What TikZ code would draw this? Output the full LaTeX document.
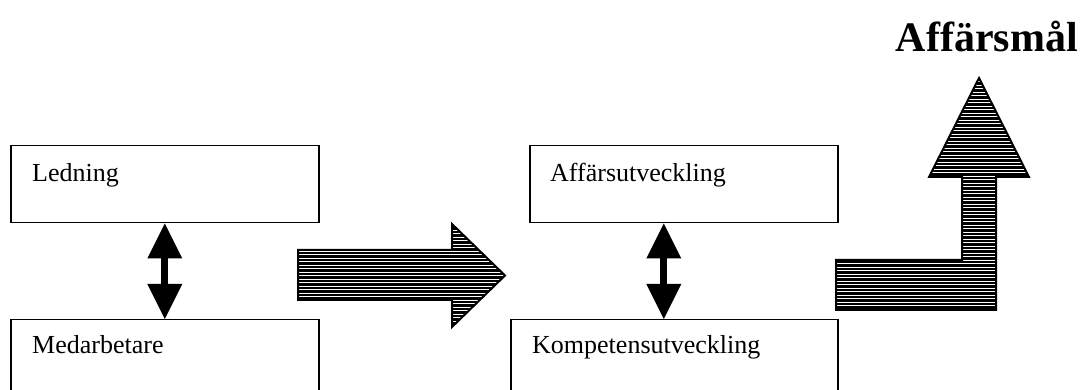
\documentclass[tikz,border=0pt]{standalone}
\usepackage{fontspec}
\setmainfont{Liberation Serif}
\usetikzlibrary{arrows.meta,calc}
\tikzset{
  box/.style={draw, line width=1.5pt, rectangle, inner sep=0pt, anchor=north west, minimum width=308pt},
  boxtext/.style={anchor=base west, inner sep=0pt, font=\fontsize{26}{30}\selectfont},
  dblarrow/.style={line width=7pt,
    {Triangle[length=35pt,width=35pt,line width=0pt]}-{Triangle[length=35pt,width=35pt,line width=0pt]}},
  outline/.style={draw, line width=2pt, line join=miter},
  hatchline/.style={white, line width=0.9pt},
}
\begin{document}
\begin{tikzpicture}[x=1pt,y=-1pt]
\useasboundingbox (0,0) rectangle (1080,390);

% boxes
\node[box, minimum height=77pt] (led) at (10,145) {};
\node[box, minimum height=90pt] (med) at (10,319) {};
\node[box, minimum height=77pt] (aff) at (529,145) {};
\node[box, minimum height=90pt, minimum width=327pt] (komp) at (510,319) {};

\node[boxtext] (ledt) at ($(led.north west)+(22,37)$) {Ledning};
\node[boxtext] (medt) at ($(med.north west)+(22,34)$) {Medarbetare};
\node[boxtext] (afft) at ($(aff.north west)+(21,37)$) {Affärsutveckling};
\node[boxtext] (kompt) at ($(komp.north west)+(22,34)$) {Kompetensutveckling};

% double arrows
\draw[dblarrow] (led.south) -- (med.north);
\coordinate (d2a) at ($(aff.south)+(-20,0)$);
\draw[dblarrow] (d2a) -- (d2a |- komp.north);

% big right arrow (hatched)
\begin{scope}
  \clip (298,250) -- (452,250) -- (452,224) -- (505,275.5) -- (452,327) -- (452,300) -- (298,300) -- cycle;
  \fill[black] (290,215) rectangle (515,335);
  \foreach \yy in {216,219.5,...,335} \draw[hatchline] (290,\yy) -- (515,\yy);
\end{scope}
\draw[outline] (298,250) -- (452,250) -- (452,224) -- (505,275.5) -- (452,327) -- (452,300) -- (298,300) -- cycle;

% L-shaped up arrow (hatched)
\begin{scope}
  \clip (836,260) -- (962,260) -- (962,177) -- (929,177) -- (979,78) -- (1029,177) -- (996,177) -- (996,310) -- (836,310) -- cycle;
  \fill[black] (830,70) rectangle (1035,315);
  \foreach \yy in {71,74.5,...,315} \draw[hatchline] (830,\yy) -- (1035,\yy);
\end{scope}
\draw[outline] (836,260) -- (962,260) -- (962,177) -- (929,177) -- (979,78) -- (1029,177) -- (996,177) -- (996,310) -- (836,310) -- cycle;

% title
\node[anchor=base east, inner sep=0pt, font=\fontsize{42}{48}\selectfont\bfseries] (goal) at (1078,52) {Affärsmål};
\end{tikzpicture}
\end{document}
